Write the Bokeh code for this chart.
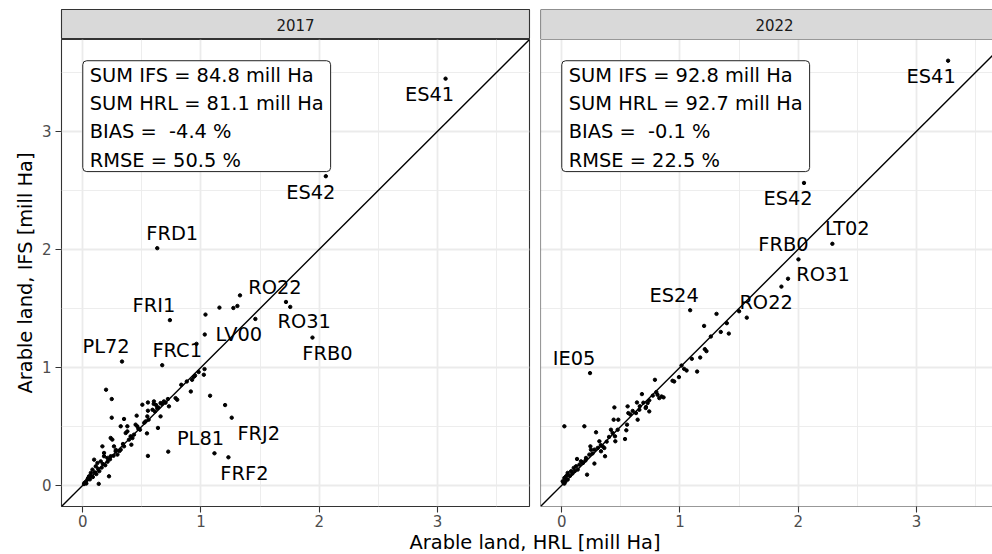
from bokeh.plotting import figure
from bokeh.models import Label, Span, Slope, FixedTicker, ColumnDataSource, Range1d
from bokeh.layouts import row, column
from bokeh.embed import file_html
from bokeh.resources import INLINE
from bokeh.core.properties import value

FONT = "DejaVu Sans"

# ---------------- data ----------------
years = ["2017", "2022"]
sum_ifs = [84.8, 92.8]
sum_hrl = [81.1, 92.7]
bias = [-4.4, -0.1]
rmse = [50.5, 22.5]

hrl_2017 = [1.156, 1.274, 1.308, 1.038, 1.460, 1.719, 0.962, 1.030, 1.024, 0.940, 0.925, 0.833, 0.914,
            1.077, 1.204, 0.723, 0.197, 0.245, 0.245, 0.349, 0.551, 0.135, 0.222, 0.636, 0.543,
            0.504, 0.551, 0.602, 0.658, 0.686, 0.720, 0.785, 0.799, 0.729, 0.630, 0.610, 0.658, 0.557,
            0.532, 0.551, 0.456, 0.461, 0.484, 0.377, 0.363, 0.405, 0.433, 0.391, 0.411, 0.349, 0.250,
            0.236, 0.264, 0.321, 0.278, 0.293, 0.236, 0.208, 0.166, 0.180, 0.152, 0.124, 0.110, 0.082,
            0.068, 0.053, 0.039, 0.014, 0.096, 0.180, 0.321, 0.377, 0.447, 0.546,
            0.010, 0.025, 0.030, 0.045, 0.060, 0.070, 0.085, 0.100, 0.115, 0.130, 0.140, 0.160, 0.170,
            0.190, 0.210, 0.230, 0.260, 0.280, 0.310, 0.340, 0.420, 0.470, 0.590, 0.620, 0.640, 0.670,
            0.700, 0.600, 0.520, 0.880, 0.980, 0.950]
ifs_2017 = [1.506, 1.503, 1.520, 1.447, 1.410, 1.554, 1.199, 0.985, 0.937, 0.920, 0.894, 0.852, 0.795,
            0.759, 0.680, 0.285, 0.810, 0.731, 0.573, 0.562, 0.249, 0.012, 0.076, 0.486, 0.440,
            0.683, 0.702, 0.711, 0.697, 0.711, 0.731, 0.739, 0.725, 0.669, 0.655, 0.626, 0.584, 0.556,
            0.542, 0.632, 0.590, 0.500, 0.471, 0.457, 0.443, 0.415, 0.429, 0.387, 0.344, 0.330, 0.387,
            0.401, 0.330, 0.302, 0.288, 0.260, 0.246, 0.232, 0.330, 0.246, 0.203, 0.189, 0.161, 0.133,
            0.105, 0.076, 0.048, 0.020, 0.217, 0.274, 0.500, 0.500, 0.514, 0.584,
            0.010, 0.030, 0.015, 0.060, 0.050, 0.080, 0.070, 0.110, 0.095, 0.140, 0.120, 0.150, 0.180,
            0.170, 0.200, 0.220, 0.250, 0.300, 0.290, 0.350, 0.400, 0.480, 0.640, 0.680, 0.660, 0.690,
            0.700, 0.690, 0.530, 0.880, 0.960, 0.930]

lab_2017 = ["ES41", "ES42", "FRD1", "RO22", "FRI1", "RO31", "LV00", "FRB0", "PL72", "FRC1", "PL81", "FRJ2", "FRF2"]
lab_hrl_2017 = [3.069, 2.056, 0.630, 1.330, 0.737, 1.755, 1.032, 1.943, 0.332, 0.672, 1.114, 1.260, 1.232]
lab_ifs_2017 = [3.447, 2.620, 2.010, 1.610, 1.400, 1.512, 1.278, 1.252, 1.049, 1.018, 0.271, 0.573, 0.237]

hrl_2022 = [1.309, 1.204, 1.396, 1.345, 1.413, 1.261, 1.565, 1.858, 1.210, 1.224, 1.100, 1.171, 1.013,
            1.035, 1.056, 1.145, 0.991, 0.951, 0.937, 0.788, 0.844, 0.825, 0.861, 0.810, 0.678, 0.636,
            0.726, 0.712, 0.740, 0.710, 0.656, 0.628, 0.642, 0.557, 0.563, 0.445, 0.439, 0.478, 0.552,
            0.416, 0.430, 0.450, 0.473, 0.546, 0.535, 0.453, 0.290, 0.022, 0.191, 0.318, 0.346, 0.304,
            0.360, 0.332, 0.276, 0.366, 0.242, 0.247, 0.233, 0.205, 0.276, 0.129, 0.163, 0.149, 0.177,
            0.121, 0.135, 0.101, 0.079, 0.050, 0.036, 0.022, 0.050, 0.008, 0.022, 0.214, 0.050,
            0.580, 0.600, 0.660, 0.690, 0.740, 0.770, 0.800, 0.400, 0.380, 0.330, 0.260, 0.200, 0.180,
            0.110, 0.090, 0.070, 0.040, 0.015, 0.030]
ifs_2022 = [1.453, 1.351, 1.374, 1.300, 1.286, 1.261, 1.421, 1.684, 1.154, 1.137, 1.072, 1.083, 1.015,
            0.987, 0.973, 0.964, 0.917, 0.880, 0.886, 0.894, 0.753, 0.739, 0.745, 0.767, 0.773, 0.702,
            0.697, 0.663, 0.626, 0.655, 0.640, 0.612, 0.556, 0.669, 0.612, 0.660, 0.556, 0.556, 0.514,
            0.471, 0.443, 0.415, 0.471, 0.466, 0.392, 0.373, 0.449, 0.500, 0.500, 0.373, 0.330, 0.316,
            0.316, 0.288, 0.302, 0.246, 0.330, 0.302, 0.260, 0.232, 0.184, 0.223, 0.203, 0.175, 0.189,
            0.161, 0.133, 0.147, 0.119, 0.105, 0.076, 0.062, 0.048, 0.034, 0.014, 0.090, 0.090,
            0.600, 0.630, 0.670, 0.700, 0.720, 0.760, 0.790, 0.410, 0.370, 0.340, 0.270, 0.210, 0.190,
            0.120, 0.100, 0.080, 0.050, 0.020, 0.030]

lab_2022 = ["ES41", "ES42", "LT02", "FRB0", "RO31", "ES24", "RO22", "IE05"]
lab_hrl_2022 = [3.268, 2.049, 2.289, 2.002, 1.914, 1.086, 1.500, 0.239]
lab_ifs_2022 = [3.599, 2.563, 2.047, 1.915, 1.751, 1.484, 1.475, 0.951]

major_ticks = [0, 1, 2, 3]
minor_ticks = [0.5, 1.5, 2.5, 3.5]
x_title = "Arable land, HRL [mill Ha]"
y_title = "Arable land, IFS [mill Ha]"

# label nudges in screen pixels (styling, repel-like placement)
nudge_2017 = {"ES41": (-16, 16), "ES42": (-15, 16), "FRD1": (15, -15), "RO22": (35, -8),
              "FRI1": (-16, -15), "RO31": (14, 15), "LV00": (34, 0), "FRB0": (15, 16),
              "PL72": (-16, -15), "FRC1": (15, -15), "PL81": (-14, -15), "FRJ2": (27, 16),
              "FRF2": (16, 16)}
nudge_2022 = {"ES41": (-17, 16), "ES42": (-16, 16), "LT02": (15, -15), "FRB0": (-15, -15),
              "RO31": (35, -4), "ES24": (-16, -15), "RO22": (27, -9), "IE05": (-16, -15)}

# ---------------- layout constants ----------------
TOTAL_W, TOTAL_H = 992, 554
LEFT_W = 533
RIGHT_W = TOTAL_W - LEFT_W                    # 459
L_MB_L, L_MB_R = 61, 4
R_MB_L, R_MB_R = 7, 0
FRAME_W = LEFT_W - L_MB_L - L_MB_R            # 468
R_FRAME_W = RIGHT_W - R_MB_L - R_MB_R         # 452
STRIP_TOP = 9
STRIP_H = 39
FRAME_H = 467
PANEL_MB_B = 23
PANEL_H = FRAME_H + PANEL_MB_B                # 490
TITLE_H = TOTAL_H - STRIP_H - PANEL_H         # 25
TITLE_TOP_FROM_BOTTOM = 24
TEXT = "19.4px"
SMALL = "15px"

all_vals = hrl_2017 + ifs_2017 + lab_hrl_2017 + lab_ifs_2017 + hrl_2022 + ifs_2022 + lab_hrl_2022 + lab_ifs_2022
lo, hi = 0.0, max(all_vals)
pad = 0.05 * (hi - lo)
r0, r1 = lo - pad, hi + pad
r1_right = r0 + (r1 - r0) * R_FRAME_W / FRAME_W

BORDER = "#333333"
GRID = "#ebebeb"


def fixed_ticker():
    return FixedTicker(ticks=major_ticks, minor_ticks=minor_ticks)


def style_axis(ax, standoff):
    ax.ticker = fixed_ticker()
    ax.axis_line_color = None
    ax.major_tick_line_color = BORDER
    ax.major_tick_line_width = 1.1
    ax.major_tick_out = 6
    ax.major_tick_in = 0
    ax.minor_tick_line_color = None
    ax.major_label_text_font = FONT
    ax.major_label_text_font_size = SMALL
    ax.major_label_text_color = "#4d4d4d"
    ax.major_label_standoff = standoff


def make_strip(year, left):
    w = LEFT_W if left else RIGHT_W
    s = figure(width=w, height=STRIP_H, x_range=Range1d(0, 1), y_range=Range1d(0, 1),
               output_backend="svg", toolbar_location=None,
               x_axis_location=None, y_axis_location=None,
               min_border_left=L_MB_L if left else R_MB_L,
               min_border_right=L_MB_R if left else R_MB_R,
               min_border_top=STRIP_TOP, min_border_bottom=0)
    for g in s.grid:
        g.visible = False
    s.background_fill_color = "#d9d9d9"
    s.border_fill_color = "white"
    if left:
        s.outline_line_color = BORDER
        s.outline_line_width = 1.1
    else:
        s.outline_line_color = None
        for loc, dim in [(0, "height"), (0, "width"), (1, "width")]:
            s.add_layout(Span(location=loc, dimension=dim, line_color=BORDER, line_width=1.1))
    s.add_layout(Label(x=0.5 if left else 0.5 * FRAME_W / R_FRAME_W, y=0.5, text=year,
                       text_align="center", text_baseline="middle",
                       text_font=FONT, text_font_size=SMALL, text_color="#1a1a1a"))
    return s


def make_panel(i, hrl, ifs, labs, lab_x, lab_y, nudge, left):
    w = LEFT_W if left else RIGHT_W
    p = figure(width=w, height=PANEL_H,
               x_range=Range1d(r0, r1 if left else r1_right), y_range=Range1d(r0, r1),
               output_backend="svg", toolbar_location=None,
               y_axis_location="left" if left else None,
               min_border_left=L_MB_L if left else R_MB_L,
               min_border_right=L_MB_R if left else R_MB_R,
               min_border_top=0, min_border_bottom=PANEL_MB_B)
    p.background_fill_color = "white"
    p.border_fill_color = "white"
    for ax in p.xaxis:
        style_axis(ax, 2)
    if left:
        for ax in p.yaxis:
            style_axis(ax, 4)
            ax.axis_label = y_title
            ax.axis_label_text_font = FONT
            ax.axis_label_text_font_size = TEXT
            ax.axis_label_text_font_style = "normal"
            ax.axis_label_text_color = "black"
            ax.axis_label_standoff = 2
    for g in p.grid:
        g.ticker = fixed_ticker()
        g.grid_line_color = GRID
        g.grid_line_width = 1.8
        g.minor_grid_line_color = GRID
        g.minor_grid_line_width = 0.9
    if left:
        p.outline_line_color = BORDER
        p.outline_line_width = 1.1
    else:
        p.outline_line_color = None
        p.add_layout(Span(location=r0, dimension="height", line_color=BORDER, line_width=1.1))
        p.add_layout(Span(location=r0, dimension="width", line_color=BORDER, line_width=1.1))
        p.add_layout(Span(location=r1, dimension="width", line_color=BORDER, line_width=1.1))

    p.add_layout(Slope(gradient=1, y_intercept=0, line_color="black", line_width=1.4))
    p.scatter(hrl + lab_x, ifs + lab_y, size=3.4, color="black")

    src = ColumnDataSource(dict(x=lab_x, y=lab_y, name=labs,
                                dx=[nudge[n][0] for n in labs], dy=[nudge[n][1] for n in labs]))
    p.text(x="x", y="y", text="name", source=src, x_offset="dx", y_offset="dy",
           text_align="center", text_baseline="middle", text_font=value(FONT),
           text_font_size=TEXT, text_color="black")

    txt = (f"SUM IFS = {sum_ifs[i]:.1f} mill Ha\n"
           f"SUM HRL = {sum_hrl[i]:.1f} mill Ha\n"
           f"BIAS =\u00a0 {bias[i]:.1f} %\n"
           f"RMSE = {rmse[i]:.1f} %")
    p.add_layout(Label(x=lo, y=hi, text=txt, text_align="left", text_baseline="top",
                       text_font=FONT, text_font_size=TEXT, text_color="black",
                       text_line_height=1.23,
                       padding=dict(left=7, right=7, top=3, bottom=0),
                       background_fill_color="white", border_line_color="#222222",
                       border_line_width=1, border_radius=4))
    return p


s1 = make_strip(years[0], True)
s2 = make_strip(years[1], False)
p1 = make_panel(0, hrl_2017, ifs_2017, lab_2017, lab_hrl_2017, lab_ifs_2017, nudge_2017, True)
p2 = make_panel(1, hrl_2022, ifs_2022, lab_2022, lab_hrl_2022, lab_ifs_2022, nudge_2022, False)

# shared x-axis title, centred under the full width of both facet panels
t = figure(width=TOTAL_W, height=TITLE_H, x_range=Range1d(0, TOTAL_W), y_range=Range1d(0, TITLE_H),
           output_backend="svg", toolbar_location=None, x_axis_location=None, y_axis_location=None,
           min_border_left=0, min_border_right=0, min_border_top=0, min_border_bottom=0)
for g in t.grid:
    g.visible = False
t.outline_line_color = None
t.border_fill_color = "white"
t.background_fill_color = "white"
cx = (L_MB_L + (LEFT_W + R_MB_L + FRAME_W)) / 2
t.add_layout(Label(x=cx, y=TITLE_TOP_FROM_BOTTOM, text=x_title, text_align="center",
                   text_baseline="top", text_font=FONT, text_font_size=TEXT, text_color="black"))

layout = column(row(column(s1, p1), column(s2, p2)), t)

open("out.html", "w").write(file_html(layout, INLINE))
